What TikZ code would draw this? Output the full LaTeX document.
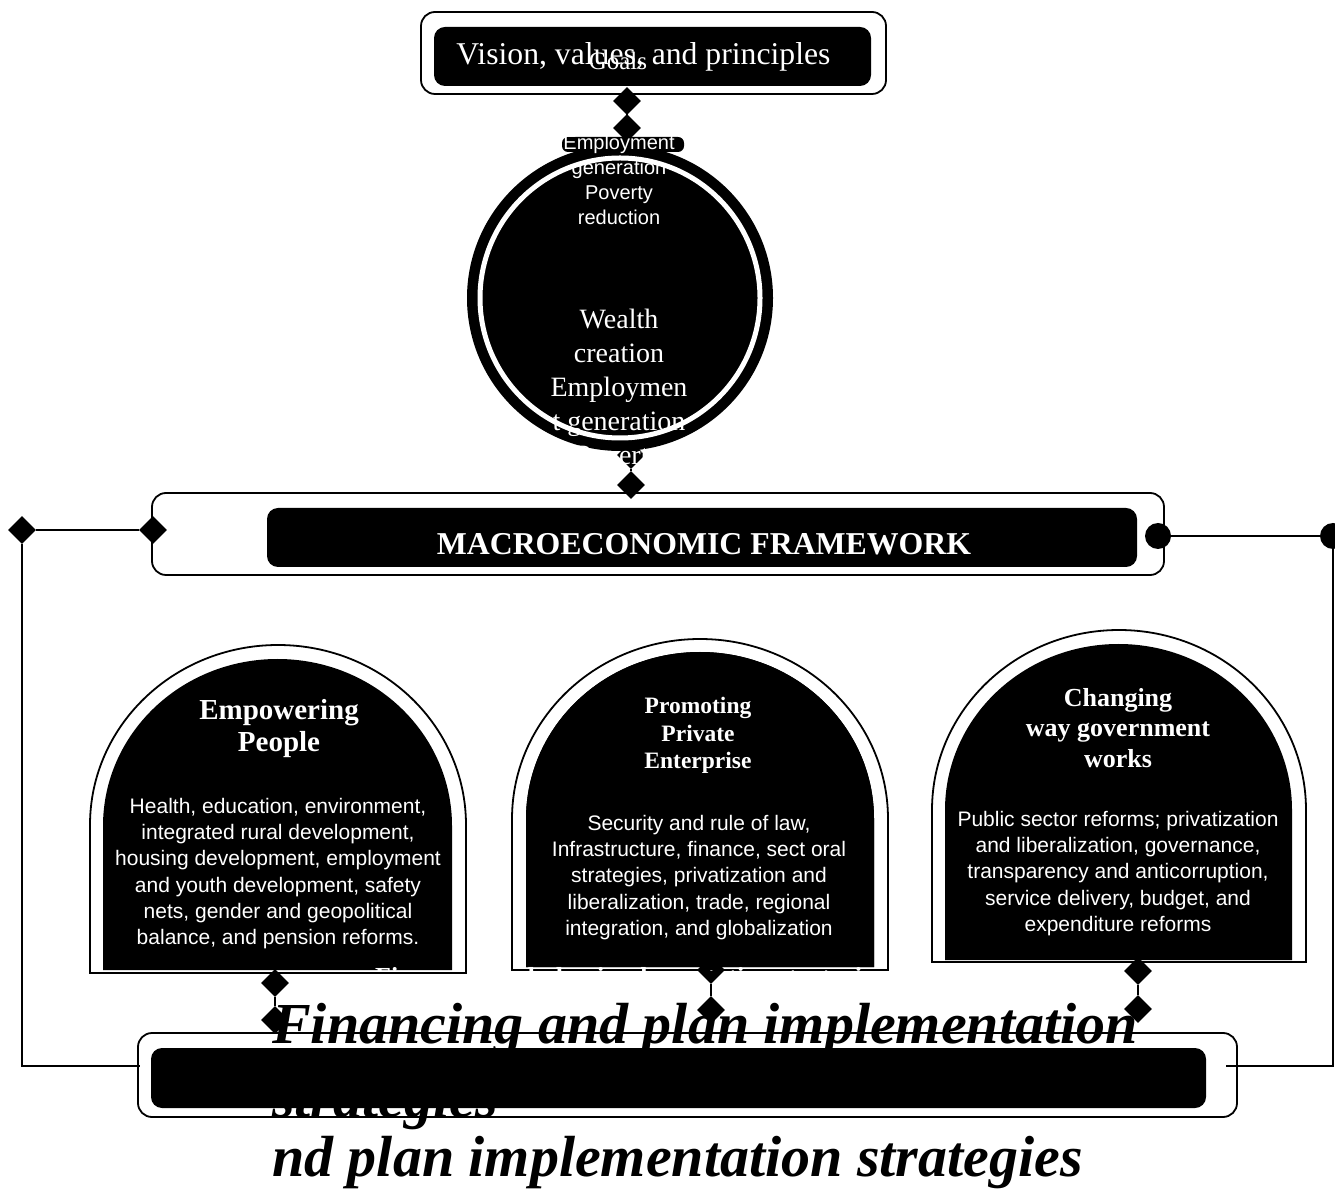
\documentclass[tikz,border=0pt]{standalone}
\usepackage{fontspec}
\setmainfont{Liberation Serif}
\newfontfamily\sansarial{Liberation Sans}
\usetikzlibrary{shapes.geometric}

% arch outline: style, centre x, half width, top y, arc height, bottom y
\newcommand\archpath[6]{%
  \path[#1] ({#2-#3},#6) -- ({#2-#3},{#4-#5})
    arc[start angle=180,end angle=0,x radius=#3,y radius=#5]
    -- ({#2+#3},#6) -- cycle;}

\begin{document}
\begin{tikzpicture}[x=1pt,y=1pt,
  frame/.style={draw=black, fill=white, line width=1.8pt, rounded corners=14pt},
  panel/.style={fill=black, rounded corners=11pt},
  conn/.style={draw=black, line width=2pt},
  dia/.style={shape=diamond, fill=black, inner sep=0pt, minimum width=28pt, minimum height=28pt},
  dot/.style={shape=circle, fill=black, inner sep=0pt, minimum size=26pt},
  archout/.style={draw=black, fill=white, line width=1.8pt},
  archin/.style={fill=black},
  wtext/.style={text=white, inner sep=0pt, align=center},
  btext/.style={text=black, inner sep=0pt, align=left},
]
\useasboundingbox (0,0) rectangle (1335,1192);

% ---- boxes ----
\draw[frame] (421,1098) rectangle (886,1180);
\fill[panel] (434,1106) rectangle (871,1165);

\draw[frame] (152,617) rectangle (1164,699);
\fill[panel] (267,625) rectangle (1137,684);

\draw[frame] (138,75) rectangle (1237,159);
\fill[panel] (151,84) rectangle (1206,144);

% ---- goals circle ----
\fill[black, rounded corners=6pt] (562,1040) rectangle (684,1055);
\fill[black] (620,894) circle[radius=153];
\draw[white, line width=5pt] (620,894) circle[radius=140];

% ---- pillar arches ----
\archpath{archout}{278}{188}{547}{180}{219}
\archpath{archin}{277.5}{174.5}{533}{167}{222}
\archpath{archout}{700}{188}{553}{180}{222}
\archpath{archin}{700}{174}{540}{167}{225}
\archpath{archout}{1119}{187}{562}{180}{230}
\archpath{archin}{1118.5}{173.5}{548}{166}{232}

% ---- connector ends ----
\node[dia] (vt1) at (627,1091) {};
\node[dia] (vt2) at (627,1064) {};
\node[dia] (cb1) at (631,737) {};
\node[dia] (cb2) at (631,707) {};
\node[dia] (ml) at (153,662) {};
\node[dia] (ll) at (22,662) {};
\node[dot] (mr) at (1158,656) {};
\node[dot] (rr) at (1333,656) {};
\node[dia] (a1d1) at (275,209) {};
\node[dia] (a1d2) at (275,172) {};
\node[dia] (a2d1) at (711,222) {};
\node[dia] (a2d2) at (711,182) {};
\node[dia] (a3d1) at (1138,221) {};
\node[dia] (a3d2) at (1138,183) {};

\coordinate (lcorner) at (22,126);
\coordinate (lend) at (140,126);
\coordinate (rcorner) at (1333,126);
\coordinate (rend) at (1226,126);

% ---- connectors ----
\draw[conn] (vt1) -- (vt2);
\draw[conn] (cb1) -- (cb2);
\draw[conn] (ml) -- (ll);
\draw[conn] (ll.south) -- (lcorner) -- (lend);
\draw[conn] (mr) -- (rr);
\draw[conn] (rr.south) -- (rcorner) -- (rend);
\draw[conn] (a1d1) -- (a1d2);
\draw[conn] (a2d1) -- (a2d2);
\draw[conn] (a3d1) -- (a3d2);

% re-cover the upper half of the middle arch diamond
\archpath{archin}{700}{174}{540}{167}{225}

% ---- texts ----
\node[wtext, anchor=base, font=\fontsize{31.7}{37}\selectfont] (vision) at (643.5,1127) {Vision, values, and principles};
\node[wtext, anchor=base, font=\fontsize{25}{30}\selectfont] (goals) at (618,1122) {Goals};

\node[wtext, anchor=north, font=\sansarial\fontsize{20}{25}\selectfont] (goalsans) at (619,1057.5)
  {Employment\\generation\\Poverty\\reduction};
\node[wtext, anchor=north, font=\fontsize{28}{34}\selectfont] (goalserif) at (619,883)
  {Wealth\\creation\\Employmen\\t generation\\Poverty};

\node[wtext, anchor=base, font=\bfseries\fontsize{31.8}{37}\selectfont] (macro) at (704,637) {MACROECONOMIC FRAMEWORK};

\node[wtext, anchor=north, font=\bfseries\fontsize{29}{32}\selectfont] (p1title) at (279,493) {Empowering\\People};
\node[wtext, anchor=north, font=\sansarial\fontsize{21}{26.2}\selectfont] (p1body) at (278,394)
  {Health, education, environment,\\integrated rural development,\\housing development, employment\\and youth development, safety\\nets, gender and geopolitical\\balance, and pension reforms.};

\node[wtext, anchor=north, font=\bfseries\fontsize{23.5}{27.5}\selectfont] (p2title) at (698,495) {Promoting\\Private\\Enterprise};
\node[wtext, anchor=north, font=\sansarial\fontsize{21}{26.2}\selectfont] (p2body) at (699,377)
  {Security and rule of law,\\Infrastructure, finance, sect oral\\strategies, privatization and\\liberalization, trade, regional\\integration, and globalization};

\node[wtext, anchor=north, font=\bfseries\fontsize{26}{30.5}\selectfont] (p3title) at (1118,504) {Changing\\way government\\works};
\node[wtext, anchor=north, font=\sansarial\fontsize{21}{26.2}\selectfont] (p3body) at (1118,381)
  {Public sector reforms; privatization\\and liberalization, governance,\\transparency and anticorruption,\\service delivery, budget, and\\expenditure reforms};

\begin{scope}
  \clip (0,222) rectangle (1335,240);
  \node[wtext, anchor=base west, font=\bfseries\fontsize{26}{30}\selectfont] (finsmall) at (375,207)
    {Financing and plan implementation strategies};
\end{scope}

\node[btext, anchor=north west, font=\bfseries\itshape\fontsize{58}{74}\selectfont] (finbig) at (272,188.5)
  {Financing and plan implementation\\strategies};
\node[btext, anchor=base west, font=\bfseries\itshape\fontsize{58}{69}\selectfont] (finrest) at (272,16)
  {nd plan implementation strategies};
\end{tikzpicture}
\end{document}
